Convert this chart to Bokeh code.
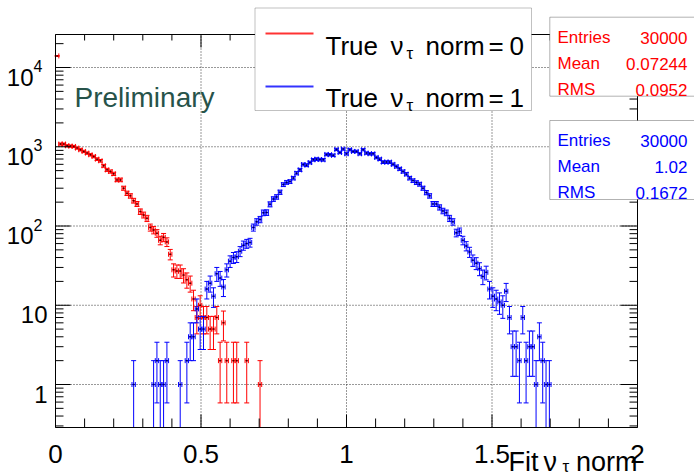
import math
import numpy as np
from bokeh.plotting import figure
from bokeh.models import Label, BoxAnnotation, Range1d
from bokeh.core.properties import value
from bokeh.embed import file_html
from bokeh.resources import INLINE

# ---------------- data ----------------
x_min, x_max = 0.0, 2.0
n_bins = 175

red_first_bin = 0
red_counts = [14000, 1082, 1082, 1030, 1020, 1009, 962, 916, 873, 832,
              792, 754, 698, 665, 575, 511, 487, 455, 382, 382,
              300, 259, 240, 209, 190, 152, 138, 125, 96, 89,
              81, 66, 72, 63, 44, 28, 27, 27, 24, 21,
              19, 12, 7, 10, 7, 7, 5, 5, 7, 2,
              6, 2, 0, 2, 2, 0, 0, 2, 0, 0,
              0, 1]

blue_first_bin = 23
blue_counts = [1, 0, 0, 0, 0, 0, 1, 2, 1, 1,          # 23-32
               2, 0, 0, 0, 1, 0, 2, 4, 4, 9,          # 33-42
               5, 5, 16, 19, 13, 25, 22, 17, 28, 36,  # 43-52
               40, 41, 48, 57, 60, 62, 96, 113, 121, 147,   # 53-62
               148, 188, 219, 233, 267, 333, 355, 364, 402, 464,  # 63-72
               511, 597, 586, 632, 684, 698, 690, 684, 800, 794,  # 73-82
               780, 925, 847, 934, 815, 916, 873, 873, 815, 916,  # 83-92
               832, 815, 815, 733, 698, 640, 640, 640, 600, 563,  # 93-102
               526, 487, 451, 402, 374, 353, 337, 300, 264, 240,  # 103-112
               190, 190, 172, 155, 147, 125, 113, 82, 85, 66,     # 113-122
               56, 47, 37, 34, 29, 23, 26, 16, 13, 12,            # 123-132
               11, 10, 15, 7, 3, 3, 2, 7, 2, 3,                   # 133-142
               3, 1, 4, 2, 1, 1]                                  # 143-148

legend_values = ["0", "1"]
stat_names = ["Entries", "Mean", "RMS"]
red_stats = ["30000", "0.07244", "0.0952"]
blue_stats = ["30000", "1.02", "0.1672"]

x_tick_values = [0.0, 0.5, 1.0, 1.5, 2.0]
x_tick_labels = ["0", "0.5", "1", "1.5", "2"]
x_minor_values = [0.1, 0.2, 0.3, 0.4, 0.6, 0.7, 0.8, 0.9, 1.1, 1.2, 1.3, 1.4,
                  1.6, 1.7, 1.8, 1.9]
y_lo, y_hi = 0.2867, 26090.0
y_tick_values = [1, 10, 100, 1000, 10000]
y_tick_base = ["1", "10", "10", "10", "10"]
y_tick_exp = ["", "", "2", "3", "4"]
y_minor_values = [m * 10.0 ** d for d in range(-1, 5) for m in range(2, 10)
                  if y_lo < m * 10.0 ** d < y_hi]

# ---------------- layout (canvas pixels) ----------------
W, H = 694, 475
FL, FR, FT, FB = 55, 637, 34, 427          # ROOT frame
lg_lo, lg_hi = math.log10(y_lo), math.log10(y_hi)
PPD = (FB - FT) / (lg_hi - lg_lo)          # pixels per decade
FONT = "Liberation Sans"
RED, BLUE = "#ff0000", "#0000ff"


def dx(cx):
    return x_min + (cx - FL) / (FR - FL) * (x_max - x_min)


def dy(cy):
    return 10 ** (lg_hi - (cy - FT) / PPD)


def shift(v, px):           # move a log value down by px pixels
    return v * 10 ** (-px / PPD)


p = figure(width=W, height=H, x_range=Range1d(dx(0), dx(W)),
           y_range=Range1d(dy(H), dy(0)), y_axis_type="log",
           x_axis_location=None, y_axis_location=None,
           output_backend="svg", toolbar_location=None, min_border=0,
           outline_line_color=None, background_fill_color="white",
           border_fill_color="white")
p.grid.visible = False

# ---------------- grid (dotted, inside frame) ----------------
gx = np.array(x_tick_values[1:-1])
p.segment(x0=gx, y0=np.full(len(gx), y_lo), x1=gx, y1=np.full(len(gx), y_hi),
          line_color="#333333", line_dash="1 2", line_width=1)
gy = np.array(y_tick_values, dtype=float)
p.segment(x0=np.full(len(gy), x_min), y0=gy, x1=np.full(len(gy), x_max), y1=gy,
          line_color="#333333", line_dash="1 2", line_width=1)


# ---------------- histograms ----------------
def draw_hist(counts, first_bin, color, dark):
    w = (x_max - x_min) / n_bins
    idx = np.array([first_bin + i for i, c in enumerate(counts) if c > 0])
    n = np.array([c for c in counts if c > 0], dtype=float)
    xc = x_min + (idx + 0.5) * w
    err = np.sqrt(n)
    hi = n + err
    lo = n - err
    has_lo = lo > y_lo
    lo_draw = np.where(has_lo, lo, y_lo)
    p.segment(x0=xc, y0=lo_draw, x1=xc, y1=hi, line_color=color, line_width=1)
    p.segment(x0=xc - w / 2, y0=n, x1=xc + w / 2, y1=n, line_color=color, line_width=1)
    p.scatter(x=np.concatenate([xc, xc[has_lo]]), y=np.concatenate([hi, lo[has_lo]]),
              marker="dash", size=5, line_color=color, fill_color=None, line_width=1)
    p.scatter(x=np.concatenate([xc - w / 2, xc + w / 2]), y=np.concatenate([n, n]),
              marker="dash", angle=math.pi / 2, size=5, line_color=color,
              fill_color=None, line_width=1)
    p.scatter(x=xc, y=n, marker="square", size=1.5, fill_color=dark, line_color=None)


draw_hist(red_counts, red_first_bin, RED, "#400000")
draw_hist(blue_counts, blue_first_bin, BLUE, "#000040")

# ---------------- frame and inward ticks ----------------
p.quad(left=x_min, right=x_max, bottom=y_lo, top=y_hi, fill_color=None,
       line_color="black", line_width=1)
for vals, ln_l, ln_r in ((y_tick_values, 15, 17), (y_minor_values, 8, 8)):
    v = np.array(vals, dtype=float)
    p.segment(x0=np.full(len(v), x_min), y0=v, x1=np.full(len(v), dx(FL + ln_l)), y1=v,
              line_color="black", line_width=1)
    p.segment(x0=np.full(len(v), x_max), y0=v, x1=np.full(len(v), dx(FR - ln_r)), y1=v,
              line_color="black", line_width=1)
for vals, ln_b, ln_t in ((x_tick_values, 13, 13), (x_minor_values, 9, 6)):
    v = np.array(vals, dtype=float)
    p.segment(x0=v, y0=np.full(len(v), y_lo), x1=v, y1=np.full(len(v), dy(FB - ln_b)),
              line_color="black", line_width=1)
    p.segment(x0=v, y0=np.full(len(v), y_hi), x1=v, y1=np.full(len(v), dy(FT + ln_t)),
              line_color="black", line_width=1)

# ---------------- tick labels ----------------
p.text(x=x_tick_values, y=[dy(453)] * len(x_tick_values), text=x_tick_labels,
       text_font=value(FONT), text_font_size="26px", text_align="center",
       text_baseline="alphabetic", text_color="black")

base_x, base_y, base_t, exp_x, exp_y, exp_t = [], [], [], [], [], []
for val, b, ex in zip(y_tick_values, y_tick_base, y_tick_exp):
    right_edge = 33 if ex else 47
    base_x.append(dx(right_edge))
    base_y.append(shift(val, 9.6))
    base_t.append(b)
    if ex:
        exp_x.append(dx(right_edge))
        exp_y.append(shift(val, -1.3))
        exp_t.append(ex)
p.text(x=base_x, y=base_y, text=base_t, text_font=value(FONT), text_font_size="24px",
       text_align="right", text_baseline="alphabetic", text_color="black")
p.text(x=exp_x, y=exp_y, text=exp_t, text_font=value(FONT), text_font_size="16px",
       text_align="left", text_baseline="alphabetic", text_color="black")


# ---------------- helper for labels ----------------
def lab(cx, cy, text, size, color="black", align="left"):
    p.add_layout(Label(x=dx(cx), y=dy(cy), text=text, text_font=FONT,
                       text_font_size=size, text_color=color, text_align=align,
                       text_baseline="alphabetic"))


# axis title: Fit ν_τ norm
lab(508, 461, "Fit", "27px")
lab(543, 461, "ν", "27px")
lab(562, 466, "τ", "17px")
lab(637, 461, "norm", "27px", align="right")

# Preliminary
lab(74, 96.7, "Preliminary", "28px", color="#27534a")

# ---------------- legend ----------------
p.add_layout(BoxAnnotation(left=dx(254.5), right=dx(531), top=dy(7.5), bottom=dy(110),
                           fill_color="white", fill_alpha=1.0,
                           line_color="#333333", line_width=1))
for row, (val, col) in enumerate(zip(legend_values, [RED, BLUE])):
    base = 45 + 52 * row
    line_y = 33 + 53 * row
    p.add_layout(BoxAnnotation(left=dx(265), right=dx(313), top=dy(line_y - 1),
                               bottom=dy(line_y + 1), fill_color=col,
                               fill_alpha=0.8, line_color=None))
    lab(325, base, "True", "26px")
    lab(390, base, "ν", "26px")
    lab(406, base + 8, "τ", "17px")
    lab(425, base, "norm", "26px")
    lab(488, base, "=", "26px")
    lab(509, base, val, "26px")

# ---------------- stats boxes ----------------
for top, bottom, vals, col, base0 in [(16.7, 95.7, red_stats, RED, 37.3),
                                      (120, 199, blue_stats, BLUE, 140)]:
    p.add_layout(BoxAnnotation(left=dx(549.3), right=dx(720), top=dy(top),
                               bottom=dy(bottom), fill_color="white",
                               fill_alpha=1.0, line_color="black",
                               line_width=1))
    for k, (nm, v) in enumerate(zip(stat_names, vals)):
        by = base0 + 26 * k
        lab(557, by, nm, "17px", color=col)
        lab(687, by, v, "17px", color=col, align="right")

open("out.html", "w").write(file_html(p, INLINE))
